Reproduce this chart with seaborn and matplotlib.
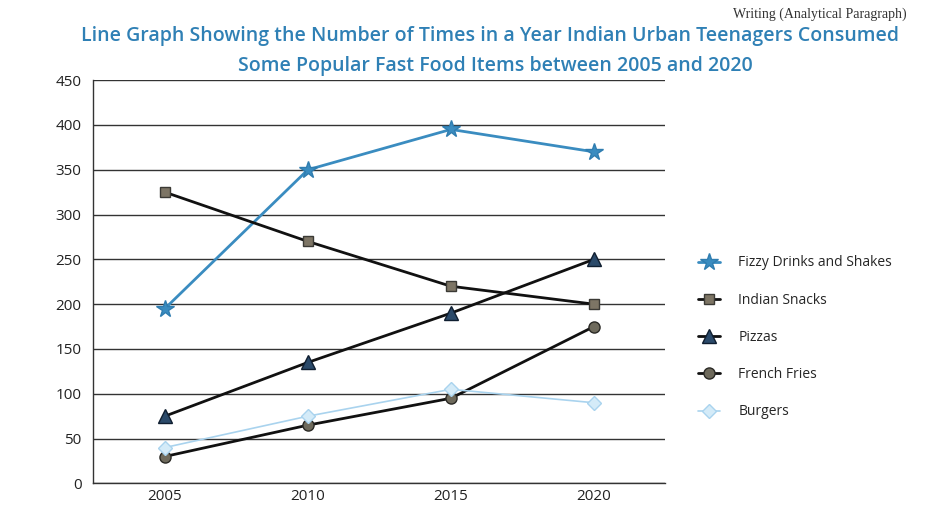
import matplotlib
matplotlib.use("Agg")
import matplotlib.pyplot as plt
import seaborn as sns
import pandas as pd
from matplotlib.ticker import MultipleLocator, FixedLocator

years = [2005, 2010, 2015, 2020]
fizzy = [195, 350, 395, 370]
snacks = [325, 270, 220, 200]
pizzas = [75, 135, 190, 250]
fries = [30, 65, 95, 175]
burgers = [40, 75, 105, 90]
series_names = ["Fizzy Drinks and Shakes", "Indian Snacks", "Pizzas", "French Fries", "Burgers"]

df = pd.DataFrame({"year": years * 5,
                   "value": fizzy + snacks + pizzas + fries + burgers,
                   "item": sum([[n] * 4 for n in series_names], [])})

styles = {
    "Fizzy Drinks and Shakes": dict(color="#3a8cc0", marker="*", markersize=13, mfc="#3a8cc0", mec="#2f7db0", lw=2.0),
    "Indian Snacks": dict(color="#111111", marker="s", markersize=7, mfc="#7d7565", mec="#3b3a35", lw=2.0),
    "Pizzas": dict(color="#111111", marker="^", markersize=10, mfc="#2b4a6a", mec="#0f1e30", lw=2.0),
    "French Fries": dict(color="#111111", marker="o", markersize=8, mfc="#6e6a5c", mec="#2a2925", lw=2.0),
    "Burgers": dict(color="#a9d3ee", marker="D", markersize=7, mfc="#d4ebf8", mec="#a9d3ee", lw=1.2),
}

sns.set_style("white")
plt.rcParams["font.family"] = ["Open Sans", "DejaVu Sans"]

fig = plt.figure(figsize=(9.52, 5.17), dpi=100)
ax = fig.add_axes([0.098, 0.065, 0.601, 0.78])

for name in series_names:
    s = styles[name]
    sub = df[df["item"] == name]
    sns.lineplot(data=sub, x="year", y="value", ax=ax, color=s["color"], marker=s["marker"],
                 markersize=s["markersize"], markerfacecolor=s["mfc"], markeredgecolor=s["mec"],
                 markeredgewidth=1.0, linewidth=s["lw"], label=name)

ax.set_xlim(2002.5, 2022.5)
ax.set_ylim(0, 450)
ax.yaxis.set_major_locator(MultipleLocator(50))
ax.set_xticks(years)
ax.xaxis.set_minor_locator(FixedLocator([2002.5, 2007.5, 2012.5, 2017.5, 2022.5]))
ax.tick_params(axis="x", which="major", length=0, labelsize=11, pad=4, colors="#222222")
ax.tick_params(axis="x", which="minor", length=5, width=1, color="#333333", direction="out")
ax.tick_params(axis="y", which="major", length=5, width=1, color="#333333", direction="out", labelsize=11, colors="#222222")
ax.set_xlabel("")
ax.set_ylabel("")
ax.grid(axis="y", color="#333333", linewidth=1.0)
ax.set_axisbelow(True)
for sp in ["top", "right"]:
    ax.spines[sp].set_visible(False)
for sp in ["left", "bottom"]:
    ax.spines[sp].set_color("#333333")
    ax.spines[sp].set_linewidth(1.0)

handles, labels = ax.get_legend_handles_labels()
ax.get_legend().remove()
fig.legend(handles, labels, loc="upper left", bbox_to_anchor=(0.72, 0.53), frameon=False,
           fontsize=10, labelspacing=1.6, handlelength=1.6, handletextpad=1.3)

fig.text(0.515, 0.93, "Line Graph Showing the Number of Times in a Year Indian Urban Teenagers Consumed",
         ha="center", va="center", fontsize=14, color="#2f80b5", fontweight="semibold")
fig.text(0.52, 0.872, "Some Popular Fast Food Items between 2005 and 2020",
         ha="center", va="center", fontsize=14, color="#2f80b5", fontweight="semibold")
fig.text(0.77, 0.972, "Writing (Analytical Paragraph)", ha="left", va="center", fontsize=10,
         color="#333333", family=["Liberation Serif", "DejaVu Serif"])

fig.savefig("out.png", dpi=100)
